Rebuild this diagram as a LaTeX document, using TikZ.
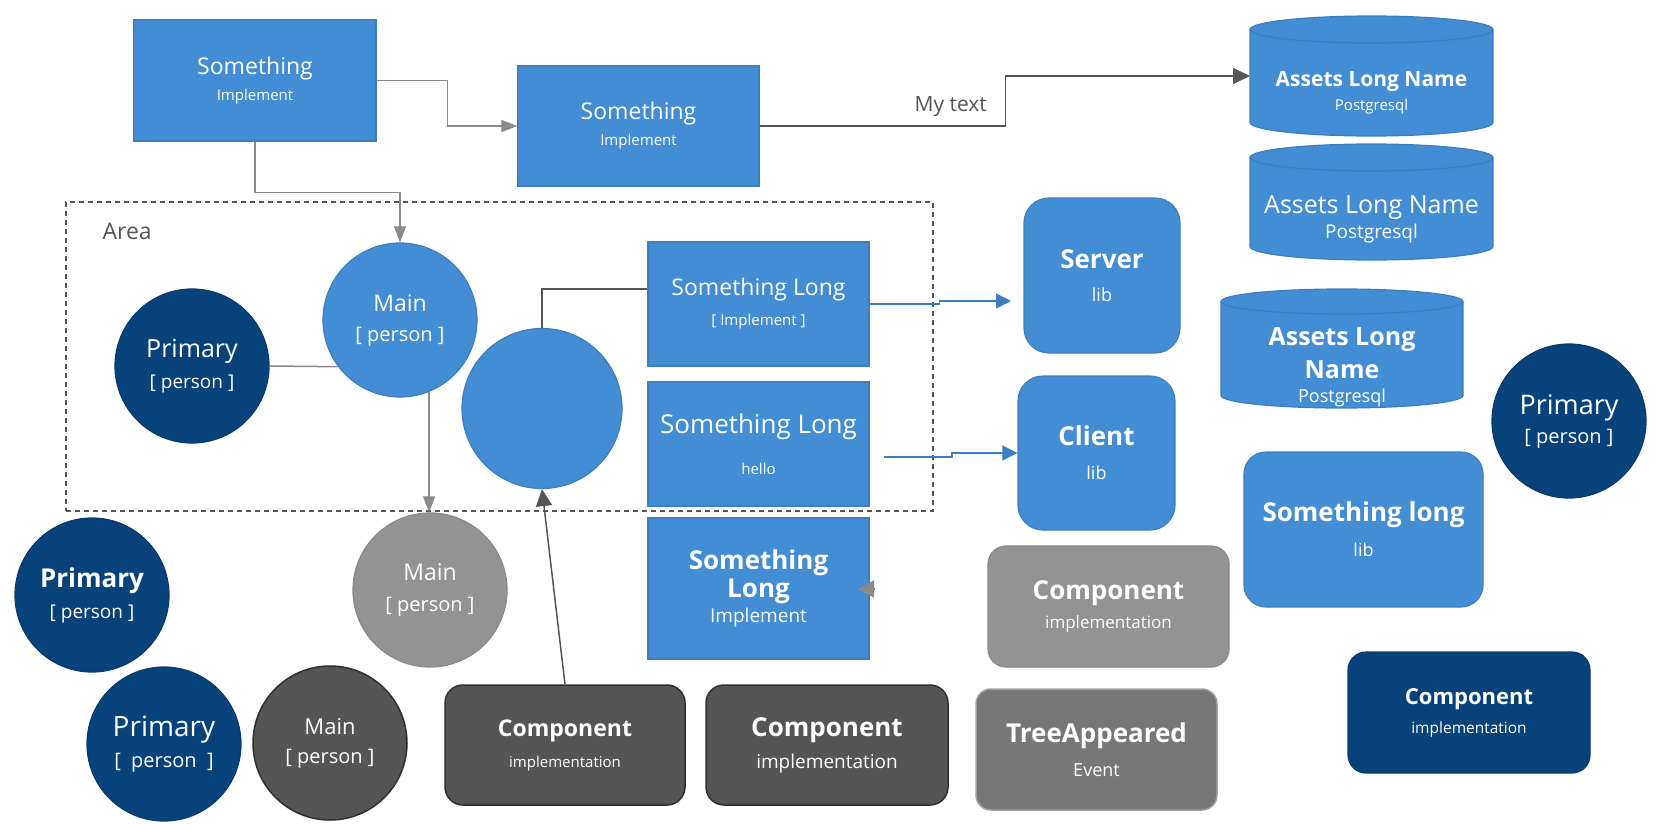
\documentclass[tikz,border=0pt]{standalone}
\usepackage{fontspec}
\setmainfont{Open Sans}
\usepackage{tikz}
\usetikzlibrary{arrows.meta,backgrounds}
\definecolor{C4blue}{HTML}{438DD5}
\definecolor{C4blueline}{HTML}{3C7FC0}
\definecolor{C4person}{HTML}{08427B}
\definecolor{C4personline}{HTML}{073B70}
\definecolor{C4gray}{HTML}{939393}
\definecolor{C4grayline}{HTML}{888888}
\definecolor{C4dark}{HTML}{555555}
\definecolor{C4darkline}{HTML}{2F2F2F}
\definecolor{C4event}{HTML}{777777}
\definecolor{C4eventline}{HTML}{A0A0A0}
\definecolor{C4wire}{HTML}{8A8A8A}
\definecolor{C4wiredark}{HTML}{555555}
\newcommand{\fsz}[2]{\fontsize{#1}{#2}\selectfont}
\newcommand{\dbpad}[1]{\rule{0pt}{#1}}
% cylinder behind a database node: node name, x radius, y radius
\newcommand{\dbshape}[3]{%
  \filldraw[fill=C4blue, draw=C4blueline, line width=1.2pt]
    ([yshift=-#3]#1.north west) -- ([yshift=#3]#1.south west)
    arc[start angle=180, end angle=360, x radius=#2, y radius=#3]
    -- ([yshift=-#3]#1.north east)
    arc[start angle=0, end angle=180, x radius=#2, y radius=#3] -- cycle;
  \draw[C4blueline, line width=1.2pt] ([yshift=-#3]#1.north west)
    arc[start angle=180, end angle=360, x radius=#2, y radius=#3];}

\begin{document}
\begin{tikzpicture}[x=1pt, y=-1pt,
  block/.style={rectangle, fill=C4blue, draw=C4blueline, line width=1.2pt, text=white, align=center, inner sep=0pt},
  rblock/.style={block, rounded corners=#1},
  person/.style={circle, fill=C4person, draw=C4personline, line width=1.2pt, minimum size=154pt, text=white, align=center, inner sep=0pt},
  dbase/.style={rectangle, text=white, align=center, inner sep=0pt, outer sep=0pt},
  areabox/.style={draw=C4wiredark, dash pattern=on 5pt off 4pt, line width=1.3pt, inner sep=0pt},
  lbl/.style={text=C4wiredark, inner sep=0pt},
  wire/.style={C4wire, line width=1.5pt, -{Triangle[length=16pt, width=12pt]}},
  wiredark/.style={C4wiredark, line width=1.5pt, -{Triangle[length=17pt, width=16pt]}},
  wireblue/.style={C4blueline, line width=1.5pt, -{Triangle[length=15pt, width=15pt]}}]
  \useasboundingbox (0,0) rectangle (1660,830);

  %% 1. Area boundary
  \node[areabox, minimum width=867pt, minimum height=309pt] (area) at (499.5,356.5) {};
  \node[lbl, anchor=west, font=\fsz{23}{26}] (areaname) at ([xshift=37pt, yshift=-30pt]area.north west) {Area};

  %% 2. Boxes
  \node[block, minimum width=242pt, minimum height=121pt, font=\fsz{23}{26}] (smth1) at (255,80.5) {Something\\{\fsz{15}{18}Implement}};
  \node[block, minimum width=241pt, minimum height=120pt, font=\fsz{23}{26}] (smth2) at (638.5,126) {Something\\{\fsz{15}{18}Implement}};
  \node[block, minimum width=221pt, minimum height=124pt, font=\fsz{23}{30}] (slong1) at (758.5,304) {Something Long\\{\fsz{15}{18}[ Implement ]}};
  \node[block, minimum width=221pt, minimum height=124pt, font=\fsz{26}{41}] (slong2) at (758.5,444) {Something Long\\{\fsz{15}{18}hello}};
  \node[block, minimum width=221pt, minimum height=141pt, font=\bfseries\fsz{26}{28}] (slong3) at (758.5,588.5) {Something\\Long\\[-3pt]{\mdseries\fsz{19}{22}Implement}};
  \node[rblock=25pt, minimum width=156pt, minimum height=155pt, font=\bfseries\fsz{26}{33}] (server) at (1102,275.5) {Server\\{\mdseries\fsz{18}{20}lib}};
  \node[rblock=25pt, minimum width=157pt, minimum height=154pt, font=\bfseries\fsz{26}{34}] (client) at (1096.5,453) {Client\\{\mdseries\fsz{18}{20}lib}};
  \node[rblock=22pt, minimum width=239pt, minimum height=155pt, font=\bfseries\fsz{26}{35}] (slib) at (1363.5,529.5) {Something long\\{\mdseries\fsz{18}{20}lib}};
  \node[rblock=18pt, fill=C4gray, draw=C4grayline, minimum width=241pt, minimum height=121pt, font=\bfseries\fsz{26}{29}] (compG) at (1108.5,606.5) {Component\\{\mdseries\fsz{17}{20}implementation}};
  \node[rblock=18pt, fill=C4person, draw=C4personline, minimum width=242pt, minimum height=121pt, font=\bfseries\fsz{22}{29}] (compB) at (1469,712.5) {Component\\{\mdseries\fsz{15.5}{18}implementation}};
  \node[rblock=18pt, fill=C4dark, draw=C4darkline, line width=1.5pt, minimum width=240pt, minimum height=120pt, font=\bfseries\fsz{23}{31}] (comp1) at (565,745) {Component\\{\mdseries\fsz{15}{18}implementation}};
  \node[rblock=18pt, fill=C4dark, draw=C4darkline, line width=1.5pt, minimum width=242pt, minimum height=120pt, font=\bfseries\fsz{26}{32}] (comp2) at (827,745) {Component\\{\mdseries\fsz{19}{22}implementation}};
  \node[rblock=15pt, fill=C4event, draw=C4eventline, line width=1.5pt, minimum width=241pt, minimum height=121pt, font=\bfseries\fsz{26}{34}] (tree) at (1096.5,749.5) {TreeAppeared\\{\mdseries\fsz{18}{20}Event}};

  %% 3. Databases
  \node[dbase, minimum width=243pt, minimum height=120pt, font=\bfseries\fsz{21}{24}] (db1) at (1371.5,76) {\dbpad{48pt}Assets Long Name\\{\mdseries\fsz{15}{18}Postgresql}};
  \node[dbase, minimum width=243pt, minimum height=116pt, font=\fsz{25}{25}] (db2) at (1371.5,202) {\dbpad{52pt}Assets Long Name\\{\fsz{19}{22}Postgresql}};
  \node[dbase, minimum width=242pt, minimum height=119pt, font=\bfseries\fsz{25}{33}] (db3) at (1342,348.5) {\dbpad{56pt}Assets Long\\Name\\[-9pt]{\mdseries\fsz{18}{20}Postgresql}};
  \begin{pgfonlayer}{background}
    \fill[white] (0,0) rectangle (1660,830);
    \dbshape{db1}{121.5pt}{13.5pt}
    \dbshape{db2}{121.5pt}{13.5pt}
    \dbshape{db3}{121pt}{12.5pt}
  \end{pgfonlayer}

  %% 4. Persons
  \node[person, font=\fsz{25}{31}] (primA) at (192,366) {Primary\\{\fsz{19}{22}[ person ]}};
  \node[person, font=\bfseries\fsz{26}{31}] (primB) at (92,595) {Primary\\{\mdseries\fsz{19}{22}[ person ]}};
  \node[person, font=\fsz{28}{31}] (primC) at (164,744) {Primary\\{\fsz{20}{22}[~ person ~]}};
  \node[person, font=\fsz{27}{29}] (primR) at (1569,421) {Primary\\{\fsz{20}{22}[ person ]}};
  \node[person, fill=C4blue, draw=C4blueline, font=\fsz{23}{30}] (mainA) at (400,320) {Main\\{\fsz{20}{22}[ person ]}};
  \node[person, fill=C4gray, draw=C4grayline, font=\fsz{23}{31}] (mainG) at (430,590) {Main\\{\fsz{20}{22}[ person ]}};
  \node[person, fill=C4dark, draw=C4darkline, line width=1.5pt, font=\fsz{22}{29}] (mainD) at (330,743) {Main\\{\fsz{20}{22}[ person ]}};
  \node[person, fill=C4blue, draw=C4blueline, minimum size=160pt] (blank) at (542,408.5) {};

  %% 5. Connectors
  \draw[wire] (smth1.east) -- ++(71,0) |- (smth2.west);
  \draw[wire] (smth1.south) -- ++(0,51) -| (mainA.north);
  \draw[wiredark] (smth2.east) -- ++(246,0) node[lbl, anchor=base east, xshift=-18pt, yshift=15pt, font=\fsz{21}{24}] {My text} |- (db1.west);
  \draw[C4wire, line width=1.5pt] (primA.east) -- (mainA.217);
  \draw[wire] (mainA.-68) -- (mainA.-68 |- mainG.north);
  \draw[C4wiredark, line width=1.5pt] (blank.north) |- ([yshift=15pt]slong1.west);
  \draw[wiredark] (comp1.north) -- (blank.south);
  \coordinate (srvtip) at (1011,301);
  \draw[wireblue] (slong1.east) -- ++(70,0) |- (srvtip);
  \coordinate (clistart) at (884,457);
  \draw[wireblue] (clistart) -- ++(68,0) |- (client.west);
  \coordinate (stubA) at (874,589);
  \coordinate (stubB) at (858,589);
  \draw[C4wire, line width=1.5pt, -{Triangle[length=16pt, width=17pt]}] (stubA) -- (stubB);
\end{tikzpicture}
\end{document}
